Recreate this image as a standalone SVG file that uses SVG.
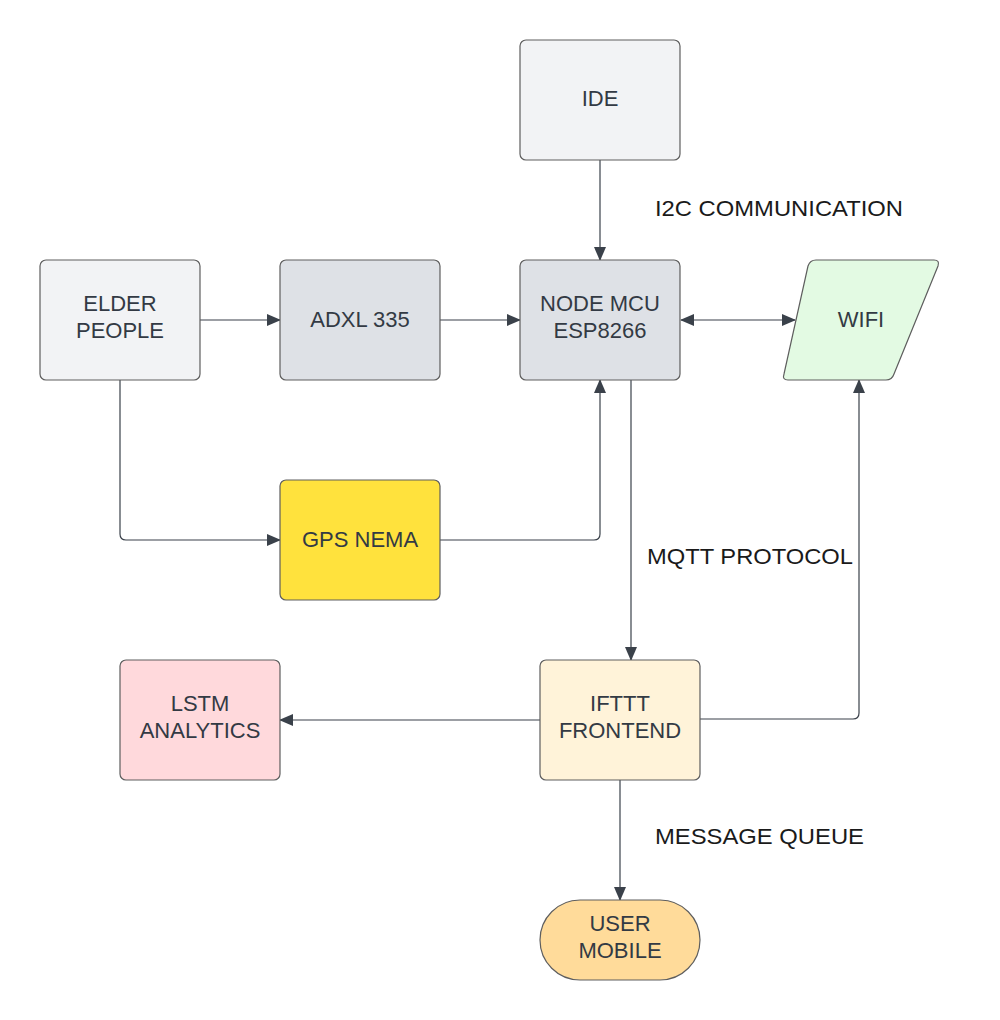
<svg xmlns="http://www.w3.org/2000/svg" width="1000" height="1020" viewBox="0 0 1000 1020">
<defs>
<marker id="arr" markerWidth="14" markerHeight="14" refX="13" refY="7" orient="auto-start-reverse" markerUnits="userSpaceOnUse">
<path d="M0,1 L14,7 L0,13 Z" fill="#3a414a"/>
</marker>
<style>
.node{stroke:#5e5e5e;stroke-width:1.2}
.t{font-family:"Liberation Sans",Arial,sans-serif;font-size:22px;fill:#333a44;text-anchor:middle}
.lbl{font-family:"Liberation Sans",Arial,sans-serif;font-size:22px;fill:#1a1a1a}
.c{fill:none;stroke:#3a414a;stroke-width:1.2}
</style>
</defs>
<rect width="1000" height="1020" fill="#ffffff"/>
<g id="connectors">
<path class="c" d="M600,160 V260" marker-end="url(#arr)"/>
<path class="c" d="M200,320 H280" marker-end="url(#arr)"/>
<path class="c" d="M440,320 H520" marker-end="url(#arr)"/>
<path class="c" d="M681,320 H795" marker-start="url(#arr)" marker-end="url(#arr)"/>
<path class="c" d="M120,380 V534 Q120,540 126,540 H280" marker-end="url(#arr)"/>
<path class="c" d="M440,540 H594 Q600,540 600,534 V380" marker-end="url(#arr)"/>
<path class="c" d="M631,380 V660" marker-end="url(#arr)"/>
<path class="c" d="M700,719 H853 Q859,719 859,713 V380" marker-end="url(#arr)"/>
<path class="c" d="M540,720 H280" marker-end="url(#arr)"/>
<path class="c" d="M620,780 V900" marker-end="url(#arr)"/>
</g>
<g id="ide"><rect class="node" x="520" y="40" width="160" height="120" rx="6" fill="#f2f3f5"/><text class="t" x="600" y="106">IDE</text></g>
<g id="elder"><rect class="node" x="40" y="260" width="160" height="120" rx="6" fill="#f2f3f5"/><text class="t" x="120" y="311">ELDER</text><text class="t" x="120" y="338">PEOPLE</text></g>
<g id="adxl"><rect class="node" x="280" y="260" width="160" height="120" rx="6" fill="#dee1e6"/><text class="t" x="360" y="327">ADXL 335</text></g>
<g id="nodemcu"><rect class="node" x="520" y="260" width="160" height="120" rx="6" fill="#dee1e6"/><text class="t" x="600" y="311">NODE MCU</text><text class="t" x="600" y="338">ESP8266</text></g>
<g id="wifi"><path class="node" d="M816,260 H934 Q940,260 938,266 L894,374 Q892,380 886,380 H788 Q782,380 784,374 L808,266 Q810,260 816,260 Z" fill="#e3fae3"/><text class="t" x="861" y="327">WIFI</text></g>
<g id="gps"><rect class="node" x="280" y="480" width="160" height="120" rx="6" fill="#ffe23d"/><text class="t" x="360" y="547">GPS NEMA</text></g>
<g id="lstm"><rect class="node" x="120" y="660" width="160" height="120" rx="6" fill="#ffd9dc"/><text class="t" x="200" y="711">LSTM</text><text class="t" x="200" y="738">ANALYTICS</text></g>
<g id="ifttt"><rect class="node" x="540" y="660" width="160" height="120" rx="6" fill="#fff3d9"/><text class="t" x="620" y="711">IFTTT</text><text class="t" x="620" y="738">FRONTEND</text></g>
<g id="mobile"><rect class="node" x="540" y="900" width="160" height="80" rx="40" fill="#ffdb9a"/><text class="t" x="620" y="931">USER</text><text class="t" x="620" y="958">MOBILE</text></g>
<g id="labels">
<text class="lbl" x="655" y="216" textLength="248" lengthAdjust="spacingAndGlyphs">I2C COMMUNICATION</text>
<text class="lbl" x="647" y="564" textLength="206" lengthAdjust="spacingAndGlyphs">MQTT PROTOCOL</text>
<text class="lbl" x="655" y="844" textLength="209" lengthAdjust="spacingAndGlyphs">MESSAGE QUEUE</text>
</g>
</svg>
